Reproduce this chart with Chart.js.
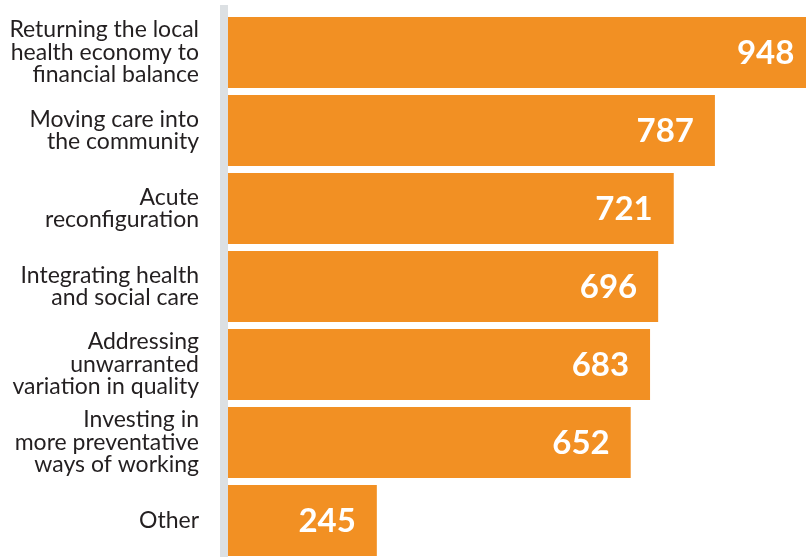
<!DOCTYPE html>
<html>
<head>
<meta charset="utf-8">
<script src="https://cdn.jsdelivr.net/npm/chart.js@4/dist/chart.umd.min.js"></script>
<style>
  html, body { margin: 0; padding: 0; background: #ffffff; overflow: hidden; }
  #wrap { width: 806px; height: 560px; }
</style>
</head>
<body>
<div id="wrap"><canvas id="chart" width="806" height="560"></canvas></div>
<script>
// Priority areas, each label split into the lines it is set on
const categories = [
  ['Returning the local', 'health economy to', 'financial balance'],
  ['Moving care into', 'the community'],
  ['Acute', 'reconfiguration'],
  ['Integrating health', 'and social care'],
  ['Addressing', 'unwarranted', 'variation in quality'],
  ['Investing in', 'more preventative', 'ways of working'],
  ['Other']
];
// Number of responses per area
const values = [948, 787, 721, 696, 683, 652, 245];

const BAR_COLOR = '#F29023';
const TEXT_COLOR = '#231F20';
const AXIS_COLOR = '#DCE0E3';

// Light grey band standing in for the category axis line
const axisBand = {
  id: 'axisBand',
  afterDatasetsDraw(chart) {
    const ctx = chart.ctx;
    const x = chart.scales.x.getPixelForValue(0);
    ctx.save();
    ctx.fillStyle = AXIS_COLOR;
    ctx.fillRect(x - 4, 5, 8, chart.height - 5);
    ctx.restore();
  }
};

// White totals written inside the end of each bar
const barValues = {
  id: 'barValues',
  afterDatasetsDraw(chart) {
    const ctx = chart.ctx;
    const meta = chart.getDatasetMeta(0);
    ctx.save();
    ctx.fillStyle = '#ffffff';
    ctx.font = 'bold 33px Lato';
    ctx.textAlign = 'right';
    ctx.textBaseline = 'middle';
    meta.data.forEach((bar, i) => {
      ctx.fillText(String(values[i]), bar.x - 21, bar.y + 1);
    });
    ctx.restore();
  }
};

new Chart(document.getElementById('chart'), {
  type: 'bar',
  data: {
    labels: categories,
    datasets: [{
      data: values,
      backgroundColor: BAR_COLOR,
      borderWidth: 0,
      barPercentage: 0.91,
      categoryPercentage: 1
    }]
  },
  options: {
    indexAxis: 'y',
    responsive: false,
    animation: false,
    layout: { padding: { top: 13.5, bottom: 0.5, left: 0, right: 0 } },
    plugins: { legend: { display: false }, tooltip: { enabled: false } },
    scales: {
      x: {
        display: false,
        min: 0,
        max: 933
      },
      y: {
        grid: { display: false, drawTicks: false },
        border: { display: false },
        afterFit(scale) {
          scale.width = 224;
          scale.paddingTop = 0;
          scale.paddingBottom = 0;
        },
        ticks: {
          padding: 25,
          color: TEXT_COLOR,
          font: { family: 'Lato', size: 23, lineHeight: '22.5px' }
        }
      }
    }
  },
  plugins: [axisBand, barValues]
});
</script>
</body>
</html>
